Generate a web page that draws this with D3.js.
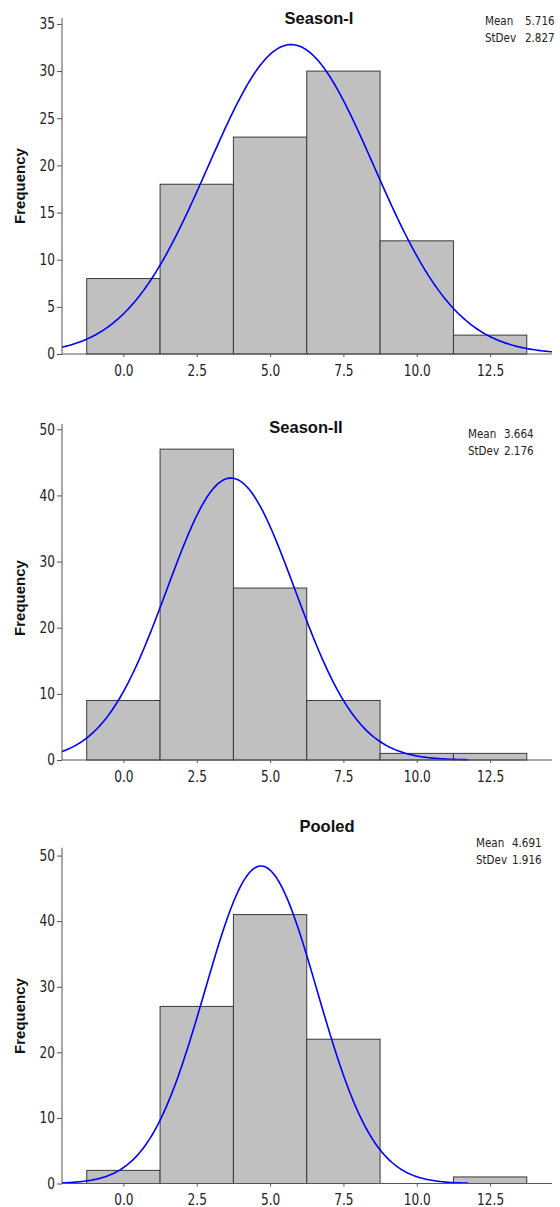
<!DOCTYPE html>
<html><head><meta charset="utf-8">
<script src="https://cdn.jsdelivr.net/npm/d3@7"></script>
<style>
body{margin:0;background:#fff;}
svg{display:block;}
.tick text{font-family:"DejaVu Sans Condensed","DejaVu Sans",sans-serif;font-size:15px;fill:#222;}
</style></head>
<body>
<svg id="c" width="560" height="1207"></svg>
<script>
// ---- data ----
const binCenters = [0, 2.5, 5, 7.5, 10, 12.5];
const binWidth = 2.5;
const titles = ["Season-I", "Season-II", "Pooled"];
const season1 = [8, 18, 23, 30, 12, 2];
const season2 = [9, 47, 26, 9, 1, 1];
const pooled = [2, 27, 41, 22, 0, 1];
const means = [5.716, 3.664, 4.691];
const stdevs = [2.827, 2.176, 1.916];
const yTicks1 = [0, 5, 10, 15, 20, 25, 30, 35];
const yTicks23 = [0, 10, 20, 30, 40, 50];
const xTickVals = [0, 2.5, 5, 7.5, 10, 12.5];
const curveEnds = [14.61, 11.8, 11.8];
const series = [season1, season2, pooled];

// ---- layout ----
const layout = [
  {y0:354, yTop:18, yMax:35.63, ticks:yTicks1, titleX:319, titleY:24, statX:485, valX:525, statY:25, labelY:186},
  {y0:760, yTop:424, yMax:50.8, ticks:yTicks23, titleX:306, titleY:433, statX:468, valX:504, statY:438, labelY:598},
  {y0:1183.5, yTop:847.7, yMax:51.2, ticks:yTicks23, titleX:327, titleY:832, statX:476, valX:512, statY:847, labelY:1016}
];
const svg = d3.select("#c");
const xL = 62, xR = 552;
const x = d3.scaleLinear().domain([-2.093, 14.61]).range([xL, xR]);
const SX = 0.9; // horizontal squeeze to mimic a condensed face

series.forEach((vals, i) => {
  const L = layout[i];
  const y = d3.scaleLinear().domain([0, L.yMax]).range([L.y0, L.yTop]);
  const g = svg.append("g");
  const n = d3.sum(vals);

  // bars
  g.selectAll("rect").data(binCenters.map((c, k) => ({c, v: vals[k]})).filter(d => d.v > 0))
    .enter().append("rect")
    .attr("x", d => x(d.c - binWidth/2))
    .attr("width", d => x(d.c + binWidth/2) - x(d.c - binWidth/2))
    .attr("y", d => y(d.v))
    .attr("height", d => y(0) - y(d.v))
    .attr("fill", "#c0c0c0").attr("stroke", "#3a3a3a").attr("stroke-width", 1);

  // normal curve
  const mu = means[i], sd = stdevs[i];
  const pts = d3.range(-2.093, curveEnds[i] + 1e-9, 0.05).map(t => [t, n * binWidth / (sd * Math.sqrt(2*Math.PI)) * Math.exp(-0.5*((t-mu)/sd)**2)]);
  g.append("path").datum(pts)
    .attr("d", d3.line().x(d => x(d[0])).y(d => y(d[1])))
    .attr("fill", "none").attr("stroke", "#0000ff").attr("stroke-width", 1.6);

  // axes
  const ya = g.append("g").attr("transform", `translate(${xL},0)`)
    .call(d3.axisLeft(y).tickValues(L.ticks).tickSize(5).tickPadding(2).tickFormat(d3.format("d")));
  ya.select(".domain").attr("d", `M0,${L.yTop}V${L.y0}`);
  ya.selectAll("line,path").attr("stroke", "#555");
  ya.selectAll(".tick text").each(function(){
    const t = d3.select(this);
    t.attr("transform", `translate(${t.attr("x")},0) scale(${SX},1)`).attr("x", 0);
  });
  const xa = g.append("g").attr("transform", `translate(0,${L.y0})`)
    .call(d3.axisBottom(x).tickValues(xTickVals).tickSize(3).tickPadding(8).tickFormat(d3.format(".1f")));
  xa.select(".domain").attr("d", `M${xL},0H${xR}`);
  xa.selectAll("line,path").attr("stroke", "#555");
  xa.selectAll(".tick text").attr("transform", `scale(${SX},1)`);

  // title
  g.append("text").attr("x", L.titleX).attr("y", L.titleY).attr("text-anchor", "middle")
    .attr("font-family", "'Liberation Sans',Arial,sans-serif").attr("font-weight", "bold")
    .attr("font-size", 16.5).attr("fill", "#111").text(titles[i]);

  // y label
  g.append("text").attr("transform", `translate(25,${L.labelY}) rotate(-90)`).attr("text-anchor", "middle")
    .attr("font-family", "'Liberation Sans',Arial,sans-serif").attr("font-weight", "bold")
    .attr("font-size", 15).attr("fill", "#111").text("Frequency");

  // stats
  const st = g.append("g").attr("font-family", "'DejaVu Sans Condensed','DejaVu Sans',sans-serif")
    .attr("font-size", 12.8).attr("fill", "#222");
  const stat = (tx, ty, s) => st.append("text").attr("transform", `translate(${tx},${ty}) scale(${SX},1)`).text(s);
  stat(L.statX, L.statY, "Mean");
  stat(L.valX, L.statY, d3.format(".3f")(mu));
  stat(L.statX, L.statY + 16.5, "StDev");
  stat(L.valX, L.statY + 16.5, d3.format(".3f")(sd));
});
</script>
</body></html>
